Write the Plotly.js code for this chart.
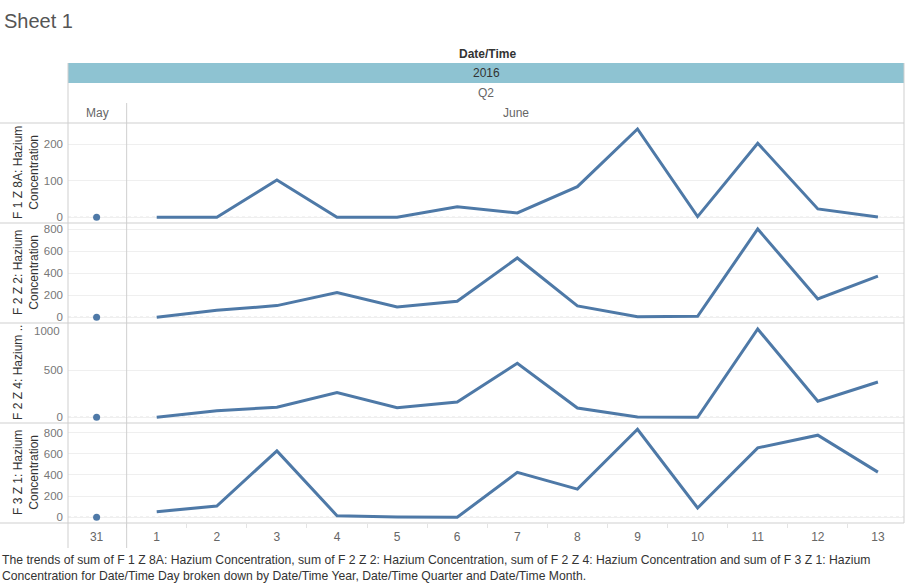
<!DOCTYPE html>
<html><head><meta charset="utf-8">
<script src="https://cdn.plot.ly/plotly-3.0.1.min.js"></script>
<style>html,body{margin:0;padding:0;background:#fff}#chart{width:909px;height:587px}</style>
</head><body><div id="chart"></div>
<script>
// ---- data ----
const days   = ['31','1','2','3','4','5','6','7','8','9','10','11','12','13'];
const months = ['May','June','June','June','June','June','June','June','June','June','June','June','June','June'];
const f1z8a  = [0, 0, 0, 102, 0, 0, 29, 12, 84, 242, 2, 203, 23, 1];
const f2z2   = [0, 0, 64, 106, 224, 94, 145, 539, 103, 5, 9, 803, 166, 375];
const f2z4   = [0, 0, 70, 106, 262, 102, 163, 574, 99, 3, 0, 939, 170, 375];
const f3z1   = [0, 53, 106, 627, 15, 3, 0, 424, 266, 831, 88, 655, 775, 426];
const seriesNames = ['F 1 Z 8A: Hazium Concentration','F 2 Z 2: Hazium Concentration','F 2 Z 4: Hazium Concentration','F 3 Z 1: Hazium Concentration'];
const axisTitles = ['F 1 Z 8A: Hazium<br>Concentration','F 2 Z 2: Hazium<br>Concentration','F 2 Z 4: Hazium ..','F 3 Z 1: Hazium<br>Concentration'];
const yearLabel = '2016', quarterLabel = 'Q2';

// ---- layout helpers ----
const W = 909, H = 587;
const px = x => x / W;
const py = y => 1 - y / H;
const BLUE = '#4e79a7';
const FONT = 'Liberation Sans, Arial, sans-serif';
const allSeries = [f1z8a, f2z2, f2z4, f3z1];
const yKeys = ['y', 'y2', 'y3', 'y4'];
const panelTop = [123, 223, 323, 423];
const yRanges = [[-15.6, 258.4], [-52, 857], [-61, 1003], [-54, 890]];
const yDticks = [100, 200, 500, 200];

const traces = [];
allSeries.forEach((vals, i) => {
  const mayX = [], mayY = [], junX = [], junY = [];
  days.forEach((d, k) => {
    if (months[k] === 'May') { mayX.push(d); mayY.push(vals[k]); }
    else { junX.push(d); junY.push(vals[k]); }
  });
  traces.push({x: mayX, y: mayY, xaxis: 'x', yaxis: yKeys[i], type: 'scatter', mode: 'markers',
    marker: {color: BLUE, size: 7}, name: seriesNames[i], showlegend: false, hoverinfo: 'x+y'});
  traces.push({x: junX, y: junY, xaxis: 'x', yaxis: yKeys[i], type: 'scatter', mode: 'lines',
    line: {color: BLUE, width: 3}, name: seriesNames[i], showlegend: false, hoverinfo: 'x+y'});
});

const layout = {
  width: W, height: H,
  margin: {l: 0, r: 0, t: 0, b: 0},
  paper_bgcolor: '#fff', plot_bgcolor: '#fff',
  font: {family: FONT, color: '#666', size: 12},
  showlegend: false,
  title: {text: 'Sheet 1', x: px(4), xanchor: 'left', y: py(21), yanchor: 'middle', xref: 'paper', yref: 'paper',
    font: {family: FONT, size: 20, color: '#555'}},
  xaxis: {type: 'category', categoryorder: 'array', categoryarray: days, domain: [px(68), px(904)],
    range: [-0.476, 13.434], anchor: 'y4', showgrid: false, zeroline: false, showline: false,
    ticks: 'outside', tickson: 'boundaries', ticklen: 4, tickcolor: '#e4e4e4', ticklabelstandoff: 5,
    tickfont: {size: 12, color: '#666'}, fixedrange: true},
  shapes: [],
  annotations: []
};
yKeys.forEach((k, i) => {
  const name = i === 0 ? 'yaxis' : 'yaxis' + (i + 1);
  const ax = {domain: [py(panelTop[i] + 100), py(panelTop[i])], range: yRanges[i], anchor: 'x',
    dtick: yDticks[i], tick0: 0, showgrid: true, gridcolor: '#efefef', gridwidth: 1, zeroline: false,
    showline: false, ticks: '', ticklabelstandoff: 4, tickfont: {size: 11.5, color: '#777'}, fixedrange: true};
  if (i === 2) { ax.tickvals = [0, 500, 1000]; ax.ticktext = ['0', '500', '']; }
  layout[name] = ax;
  // zero reference line (dotted)
  layout.shapes.push({type: 'line', xref: 'paper', yref: k, x0: px(68), x1: px(904), y0: 0, y1: 0,
    line: {color: '#c4c4c4', width: 1, dash: 'dot'}, layer: 'below'});
  // axis title
  layout.annotations.push({text: axisTitles[i], xref: 'paper', yref: 'paper', x: px(i === 2 ? 18 : 26),
    y: py(panelTop[i] + 50), textangle: -90, showarrow: false, xanchor: 'center', yanchor: 'middle',
    font: {family: FONT, size: 12, color: '#333'}});
});
// top label of third panel, nudged inside the pane
layout.annotations.push({text: '1000', xref: 'paper', yref: 'y3', x: px(62), xanchor: 'right', y: 1000,
  yshift: -8, showarrow: false, font: {family: FONT, size: 11.5, color: '#777'}});

// header band and borders
layout.shapes.push({type: 'rect', xref: 'paper', yref: 'paper', x0: px(68), x1: px(904), y0: py(83), y1: py(63),
  fillcolor: '#8ec3d2', line: {width: 0}, layer: 'below'});
[123, 223, 323, 423, 523].forEach(y => layout.shapes.push({type: 'line', xref: 'paper', yref: 'paper',
  x0: 0, x1: px(904), y0: py(y), y1: py(y), line: {color: '#cfcfcf', width: 1}}));
layout.shapes.push({type: 'line', xref: 'paper', yref: 'paper', x0: px(68), x1: px(68), y0: py(63), y1: py(548),
  line: {color: '#cfcfcf', width: 1}});
layout.shapes.push({type: 'line', xref: 'paper', yref: 'paper', x0: px(904), x1: px(904), y0: py(63), y1: py(523),
  line: {color: '#cfcfcf', width: 1}});
layout.shapes.push({type: 'line', xref: 'x', yref: 'paper', x0: 0.5, x1: 0.5, y0: py(103), y1: py(548),
  line: {color: '#cfcfcf', width: 1}});

// header texts
const hdr = (text, x, y, opts) => layout.annotations.push(Object.assign({text, xref: 'paper', yref: 'paper',
  x: px(x), y: py(y), xanchor: 'center', yanchor: 'middle', showarrow: false,
  font: {family: FONT, size: 12, color: '#666'}}, opts || {}));
hdr('<b>Date/Time</b>', 487, 54, {font: {family: FONT, size: 12, color: '#333'}});
hdr(yearLabel, 486, 73, {font: {family: FONT, size: 12, color: '#333'}});
hdr(quarterLabel, 486, 93);
hdr('May', 97, 113);
hdr('June', 516, 113);

// footer caption
layout.annotations.push({text: 'The trends of sum of ' + seriesNames[0] + ', sum of ' + seriesNames[1] + ', sum of ' +
  seriesNames[2] + ' and sum of F 3 Z 1: Hazium<br>Concentration for Date/Time Day broken down by Date/Time Year, Date/Time Quarter and Date/Time Month.',
  xref: 'paper', yref: 'paper', x: 0, y: py(551), xanchor: 'left', yanchor: 'top', align: 'left', showarrow: false,
  font: {family: FONT, size: 12.2, color: '#333'}});

Plotly.newPlot('chart', traces, layout, {displayModeBar: false, staticPlot: true});
</script></body></html>
